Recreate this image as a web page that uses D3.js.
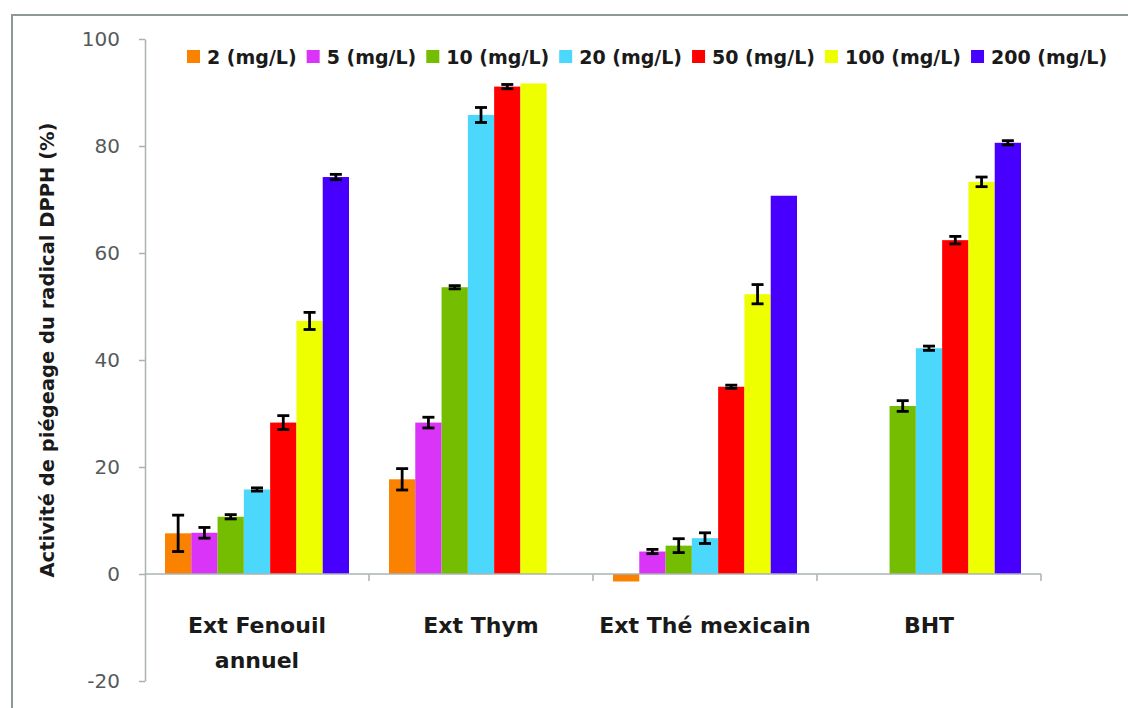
<!DOCTYPE html>
<html>
<head>
<meta charset="utf-8">
<script src="https://cdn.jsdelivr.net/npm/d3@7"></script>
<style>
  html, body { margin: 0; padding: 0; background: #ffffff; }
  svg { display: block; }
</style>
</head>
<body>
<svg id="chart" width="1128" height="708"></svg>
<script>
// Extracts and concentrations
const categories = ["Ext Fenouil annuel", "Ext Thym", "Ext Thé mexicain", "BHT"];
const categoryLines = [["Ext Fenouil", "annuel"], ["Ext Thym"], ["Ext Thé mexicain"], ["BHT"]];
const seriesNames = ["2 (mg/L)", "5 (mg/L)", "10 (mg/L)", "20 (mg/L)", "50 (mg/L)", "100 (mg/L)", "200 (mg/L)"];
const seriesColors = ["#fb8200", "#d934f7", "#74bd00", "#4cd7fd", "#ff0000", "#eeff00", "#4700ff"];

// DPPH scavenging activity (%) per series, one value per extract (null = not measured)
const v2   = [7.6, 17.7, -1.4, null];
const v5   = [7.7, 28.3, 4.2, null];
const v10  = [10.7, 53.6, 5.3, 31.4];
const v20  = [15.8, 85.8, 6.7, 42.2];
const v50  = [28.3, 91.1, 35.0, 62.4];
const v100 = [47.3, 91.7, 52.3, 73.3];
const v200 = [74.2, null, 70.7, 80.6];

// Standard deviations (null = no error bar)
const e2   = [3.4, 2.0, null, null];
const e5   = [1.0, 1.0, 0.4, null];
const e10  = [0.4, 0.3, 1.3, 1.0];
const e20  = [0.3, 1.4, 1.0, 0.4];
const e50  = [1.3, 0.4, 0.3, 0.7];
const e100 = [1.6, null, 1.8, 0.9];
const e200 = [0.5, null, null, 0.4];

const yTicks = [-20, 0, 20, 40, 60, 80, 100];
const yTickLabels = ["-20", "0", "20", "40", "60", "80", "100"];
const yTitle = "Activité de piégeage du radical DPPH (%)";

const values = [v2, v5, v10, v20, v50, v100, v200];
const errors = [e2, e5, e10, e20, e50, e100, e200];

const svg = d3.select("#chart");
const FONT = "'DejaVu Sans', sans-serif";

// outer frame
svg.append("rect")
  .attr("x", 12).attr("y", 15)
  .attr("width", 1140).attr("height", 720)
  .attr("fill", "none")
  .attr("stroke", "#8f9898")
  .attr("stroke-width", 2);

const plotLeft = 145, plotRight = 1041;

const y = d3.scaleLinear().domain([-20, 100]).range([681, 39]);

const pad = 40 / 224;
const x0 = d3.scaleBand().domain(categories).range([plotLeft, plotRight])
  .paddingInner(pad).paddingOuter(pad / 2);
const x1 = d3.scaleBand().domain(seriesNames).range([0, x0.bandwidth()]).padding(0);

// y axis
const yAxis = d3.axisLeft(y).tickValues(yTicks).tickSize(6).tickSizeOuter(0).tickPadding(19)
  .tickFormat((d, i) => yTickLabels[i]);
const gy = svg.append("g").attr("transform", `translate(${plotLeft},0)`).call(yAxis);
gy.select(".domain").attr("stroke", "#aab3b3").attr("stroke-width", 1.5);
gy.selectAll(".tick line").attr("stroke", "#aab3b3").attr("stroke-width", 1.5);
gy.selectAll(".tick text")
  .attr("font-family", FONT).attr("font-size", 20).attr("fill", "#555a5a");

// bars
const rows = [];
categories.forEach((c, ci) => {
  seriesNames.forEach((s, si) => {
    const v = values[si][ci];
    if (v !== null) rows.push({ c, s, si, v, e: errors[si][ci] });
  });
});

svg.append("g").selectAll("rect").data(rows).join("rect")
  .attr("x", d => x0(d.c) + x1(d.s))
  .attr("width", x1.bandwidth())
  .attr("y", d => y(Math.max(0, d.v)))
  .attr("height", d => Math.abs(y(d.v) - y(0)))
  .attr("fill", d => seriesColors[d.si]);

// x axis line with category boundary ticks
const gx = svg.append("g");
gx.append("line")
  .attr("x1", plotLeft).attr("x2", plotRight)
  .attr("y1", y(0)).attr("y2", y(0))
  .attr("stroke", "#aab3b3").attr("stroke-width", 1.5);
const bounds = d3.range(categories.length + 1).map(i => plotLeft + i * x0.step());
gx.selectAll("line.tick").data(bounds.slice(1)).join("line")
  .attr("class", "tick")
  .attr("x1", d => d).attr("x2", d => d)
  .attr("y1", y(0)).attr("y2", y(0) + 7)
  .attr("stroke", "#aab3b3").attr("stroke-width", 1.5);

// error bars
const eb = svg.append("g").attr("stroke", "#000").attr("stroke-width", 2.8);
rows.filter(d => d.e !== null).forEach(d => {
  const cx = x0(d.c) + x1(d.s) + x1.bandwidth() / 2;
  const top = y(d.v + d.e), bot = y(d.v - d.e);
  eb.append("line").attr("x1", cx).attr("x2", cx).attr("y1", top).attr("y2", bot);
  eb.append("line").attr("x1", cx - 6).attr("x2", cx + 6).attr("y1", top).attr("y2", top);
  eb.append("line").attr("x1", cx - 6).attr("x2", cx + 6).attr("y1", bot).attr("y2", bot);
});

// category labels
const gl = svg.append("g")
  .attr("font-family", FONT).attr("font-size", 22).attr("font-weight", "bold")
  .attr("fill", "#1a1a1a").attr("text-anchor", "middle");
categories.forEach((c, i) => {
  const t = gl.append("text").attr("x", x0(c) + x0.bandwidth() / 2).attr("y", 633);
  categoryLines[i].forEach((line, li) => {
    t.append("tspan").attr("x", x0(c) + x0.bandwidth() / 2)
      .attr("dy", li === 0 ? 0 : 35).text(line);
  });
});

// y axis title
svg.append("text")
  .attr("transform", "translate(54,350) rotate(-90)")
  .attr("text-anchor", "middle")
  .attr("font-family", FONT).attr("font-size", 19.5).attr("font-weight", "bold")
  .attr("fill", "#1a1a1a")
  .text(yTitle);

// legend
const lg = svg.append("g").attr("font-family", FONT).attr("font-size", 19)
  .attr("font-weight", "bold").attr("fill", "#1a1a1a");
let lx = 187;
seriesNames.forEach((s, i) => {
  lg.append("rect").attr("x", lx).attr("y", 50).attr("width", 13).attr("height", 13)
    .attr("fill", seriesColors[i]);
  const t = lg.append("text").attr("x", lx + 20).attr("y", 64).text(s);
  lx += 20 + t.node().getComputedTextLength() + 10;
});
</script>
</body>
</html>
